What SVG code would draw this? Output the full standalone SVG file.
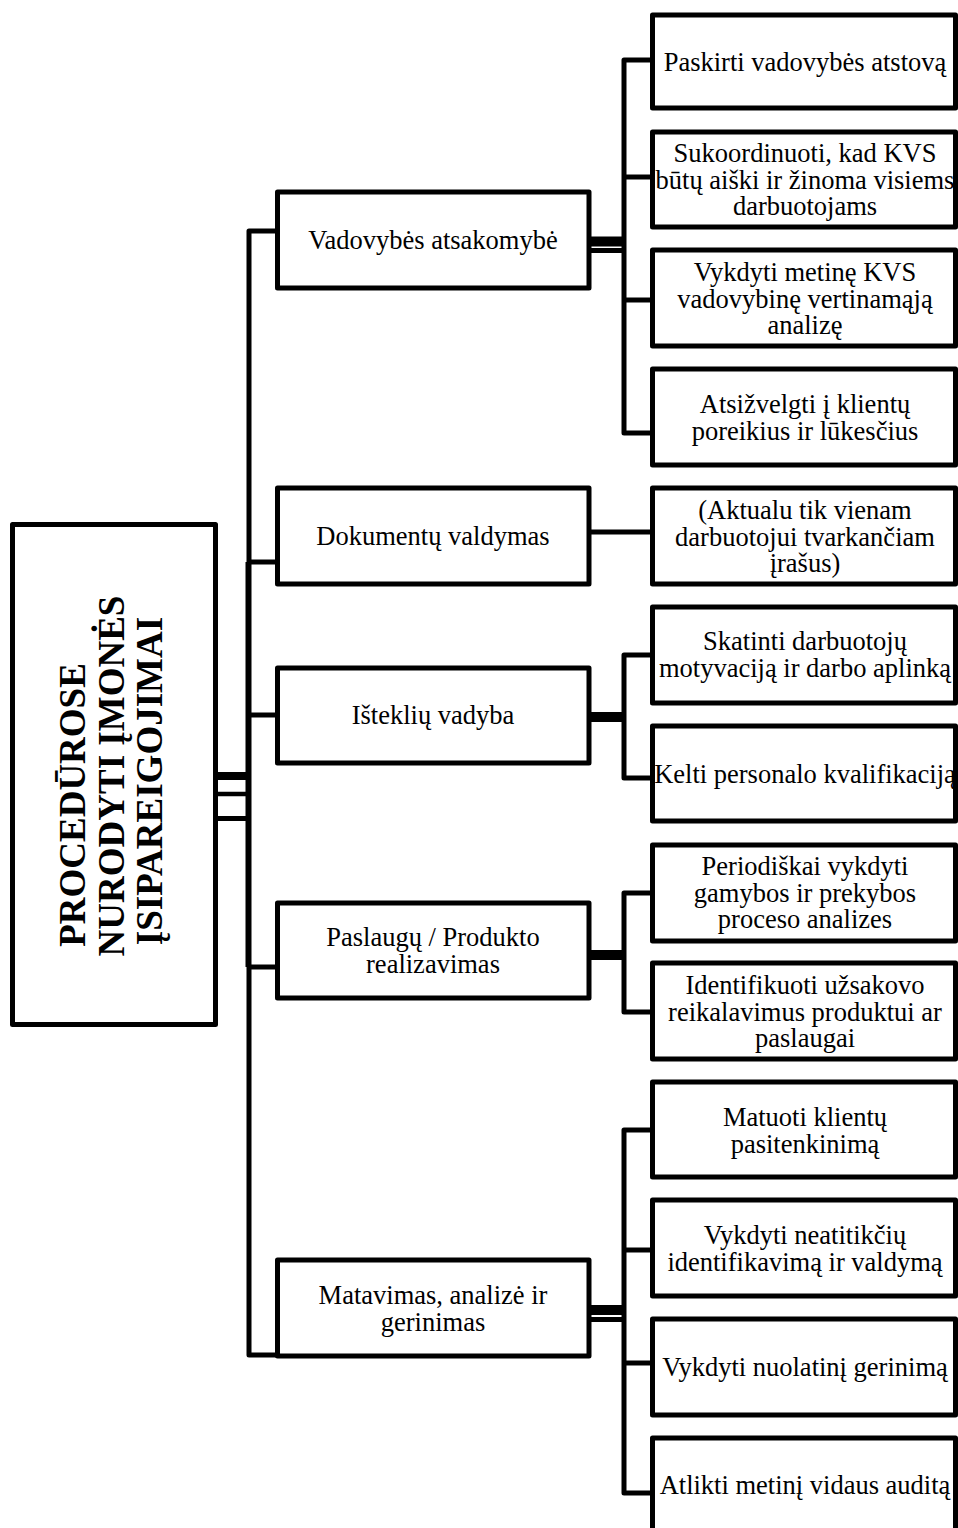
<svg xmlns="http://www.w3.org/2000/svg" width="958" height="1528" viewBox="0 0 958 1528">
<style>
.box{fill:#fff;stroke:#000;stroke-width:5;stroke-linejoin:round}
.c{fill:none;stroke:#000;stroke-width:5;stroke-linejoin:round}
.t{font-family:"Liberation Serif","Times New Roman",serif;font-size:26.5px;text-anchor:middle;fill:#000}
.m{font-family:"Liberation Serif","Times New Roman",serif;font-size:37px;font-weight:bold;text-anchor:middle;fill:#000}
</style>
<rect width="958" height="1528" fill="#fff"/>
<g id="connectors">
  <!-- main box to bus -->
  <line class="c" x1="215" y1="776" x2="249" y2="776" style="stroke-width:8"/>
  <line class="c" x1="215" y1="794" x2="249" y2="794" style="stroke-width:4.5"/>
  <line class="c" x1="215" y1="818.5" x2="249" y2="818.5"/>
  <!-- main bus -->
  <path class="c" d="M277,231 H249 V1355 H277"/>
  <line class="c" x1="247" y1="562" x2="247" y2="967" style="stroke-width:3"/>
  <line class="c" x1="249" y1="562" x2="277" y2="562"/>
  <line class="c" x1="249" y1="715" x2="277" y2="715"/>
  <line class="c" x1="249" y1="967" x2="277" y2="967"/>
  <!-- Vadovybės children -->
  <line class="c" x1="589" y1="241.5" x2="624" y2="241.5" style="stroke-width:10"/>
  <line class="c" x1="589" y1="250.5" x2="624" y2="250.5"/>
  <path class="c" d="M652,60 H624 V433 H652"/>
  <line class="c" x1="624" y1="177" x2="652" y2="177"/>
  <line class="c" x1="624" y1="300" x2="652" y2="300"/>
  <!-- Dokumentų child -->
  <line class="c" x1="589" y1="532" x2="652" y2="532"/>
  <!-- Išteklių children -->
  <line class="c" x1="589" y1="717" x2="624" y2="717" style="stroke-width:10"/>
  <path class="c" d="M652,655 H624 V778 H652"/>
  <!-- Paslaugų children -->
  <line class="c" x1="589" y1="955" x2="624" y2="955" style="stroke-width:10"/>
  <path class="c" d="M652,893 H624 V1012 H652"/>
  <!-- Matavimas children -->
  <line class="c" x1="589" y1="1310" x2="624" y2="1310" style="stroke-width:10"/>
  <line class="c" x1="589" y1="1319.5" x2="624" y2="1319.5"/>
  <path class="c" d="M652,1130 H624 V1493 H652"/>
  <line class="c" x1="624" y1="1250" x2="652" y2="1250"/>
  <line class="c" x1="624" y1="1363" x2="652" y2="1363"/>
</g>
<g id="root">
  <rect class="box" x="12.5" y="524.5" width="203" height="500"/>
  <text class="m" transform="translate(85,805) rotate(-90)">PROCEDŪROSE</text>
  <text class="m" transform="translate(124,776) rotate(-90)">NURODYTI ĮMONĖS</text>
  <text class="m" transform="translate(162,781) rotate(-90)">ĮSIPAREIGOJIMAI</text>
</g>
<g id="n-vadovybes">
  <rect class="box" x="277.5" y="192" width="311.5" height="96"/>
  <text class="t" x="433" y="249">Vadovybės atsakomybė</text>
</g>
<g id="n-dokumentu">
  <rect class="box" x="277.5" y="488" width="311.5" height="96"/>
  <text class="t" x="433" y="545">Dokumentų valdymas</text>
</g>
<g id="n-istekliu">
  <rect class="box" x="277.5" y="668" width="311.5" height="95"/>
  <text class="t" x="433" y="724">Išteklių vadyba</text>
</g>
<g id="n-paslaugu">
  <rect class="box" x="277.5" y="903" width="311.5" height="95"/>
  <text class="t" x="433" y="946">Paslaugų / Produkto</text>
  <text class="t" x="433" y="973">realizavimas</text>
</g>
<g id="n-matavimas">
  <rect class="box" x="277.5" y="1260" width="311.5" height="96"/>
  <text class="t" x="433" y="1304">Matavimas, analizė ir</text>
  <text class="t" x="433" y="1331">gerinimas</text>
</g>
<g id="c1">
  <rect class="box" x="652.5" y="15" width="303" height="93"/>
  <text class="t" x="805" y="71">Paskirti vadovybės atstovą</text>
</g>
<g id="c2">
  <rect class="box" x="652.5" y="132" width="303" height="95"/>
  <text class="t" x="805" y="162">Sukoordinuoti, kad KVS</text>
  <text class="t" x="805" y="188.5">būtų aiški ir žinoma visiems</text>
  <text class="t" x="805" y="215">darbuotojams</text>
</g>
<g id="c3">
  <rect class="box" x="652.5" y="250" width="303" height="96"/>
  <text class="t" x="805" y="281">Vykdyti metinę KVS</text>
  <text class="t" x="805" y="307.5">vadovybinę vertinamąją</text>
  <text class="t" x="805" y="334">analizę</text>
</g>
<g id="c4">
  <rect class="box" x="652.5" y="369" width="303" height="96"/>
  <text class="t" x="805" y="413">Atsižvelgti į klientų</text>
  <text class="t" x="805" y="440">poreikius ir lūkesčius</text>
</g>
<g id="c5">
  <rect class="box" x="652.5" y="488" width="303" height="96"/>
  <text class="t" x="805" y="519">(Aktualu tik vienam</text>
  <text class="t" x="805" y="545.5">darbuotojui tvarkančiam</text>
  <text class="t" x="805" y="572">įrašus)</text>
</g>
<g id="c6">
  <rect class="box" x="652.5" y="607" width="303" height="96"/>
  <text class="t" x="805" y="650">Skatinti darbuotojų</text>
  <text class="t" x="805" y="677">motyvaciją ir darbo aplinką</text>
</g>
<g id="c7">
  <rect class="box" x="652.5" y="726" width="303" height="95"/>
  <text class="t" x="805" y="783">Kelti personalo kvalifikaciją</text>
</g>
<g id="c8">
  <rect class="box" x="652.5" y="845" width="303" height="96"/>
  <text class="t" x="805" y="875">Periodiškai vykdyti</text>
  <text class="t" x="805" y="901.5">gamybos ir prekybos</text>
  <text class="t" x="805" y="928">proceso analizes</text>
</g>
<g id="c9">
  <rect class="box" x="652.5" y="963" width="303" height="96"/>
  <text class="t" x="805" y="994">Identifikuoti užsakovo</text>
  <text class="t" x="805" y="1020.5">reikalavimus produktui ar</text>
  <text class="t" x="805" y="1047">paslaugai</text>
</g>
<g id="c10">
  <rect class="box" x="652.5" y="1082" width="303" height="95"/>
  <text class="t" x="805" y="1126">Matuoti klientų</text>
  <text class="t" x="805" y="1153">pasitenkinimą</text>
</g>
<g id="c11">
  <rect class="box" x="652.5" y="1200" width="303" height="96"/>
  <text class="t" x="805" y="1244">Vykdyti neatitikčių</text>
  <text class="t" x="805" y="1271">identifikavimą ir valdymą</text>
</g>
<g id="c12">
  <rect class="box" x="652.5" y="1319" width="303" height="96"/>
  <text class="t" x="805" y="1376">Vykdyti nuolatinį gerinimą</text>
</g>
<g id="c13">
  <rect class="box" x="652.5" y="1438" width="303" height="100"/>
  <text class="t" x="805" y="1494">Atlikti metinį vidaus auditą</text>
</g>
</svg>
